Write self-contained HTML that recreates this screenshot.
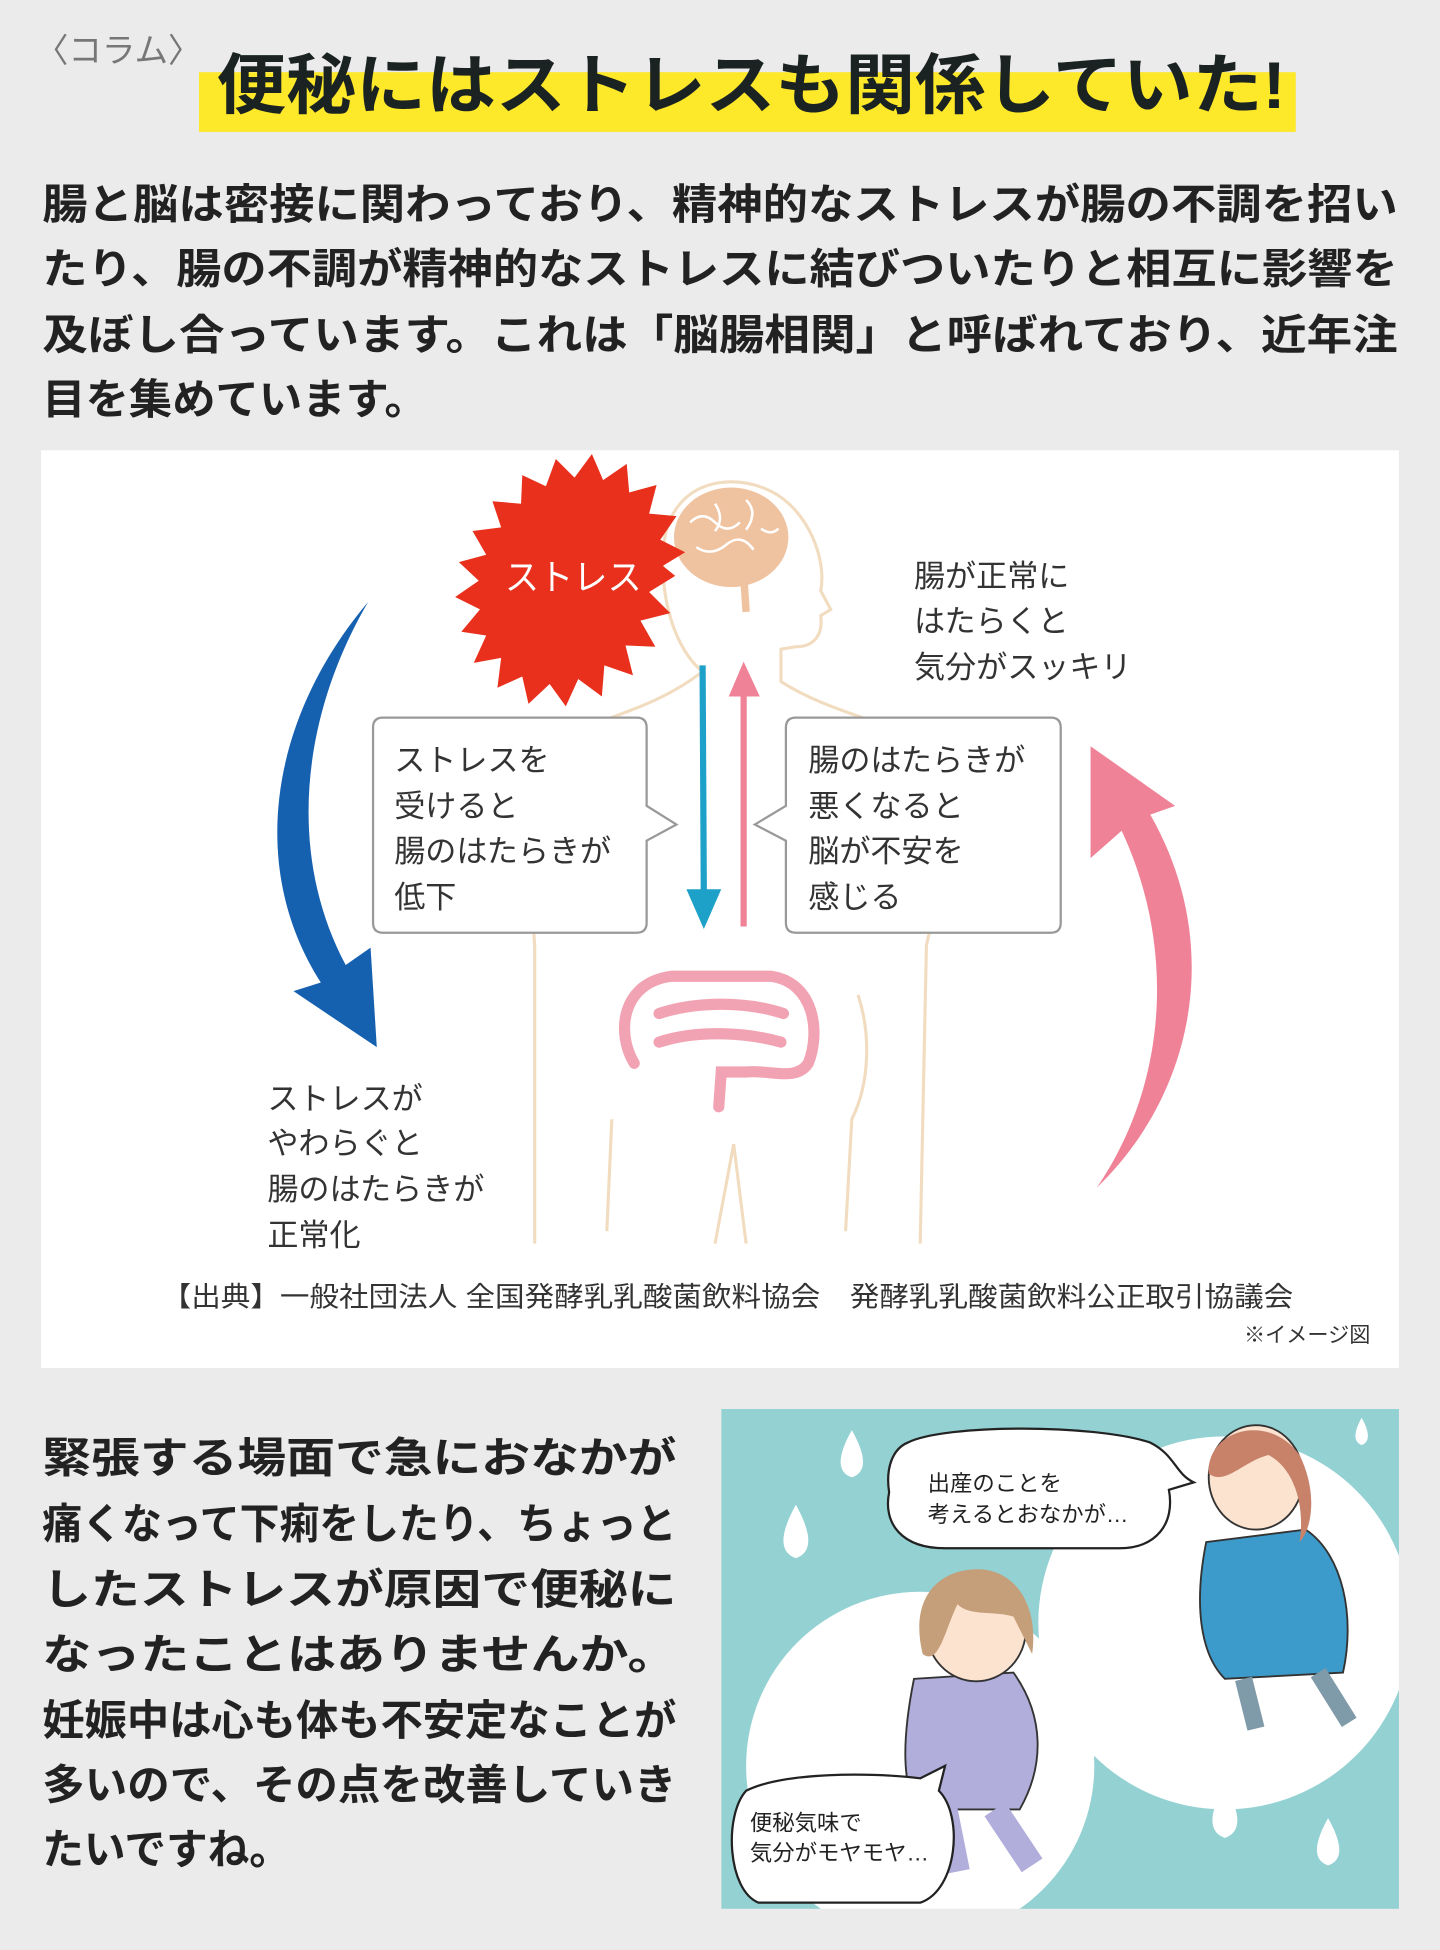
<!DOCTYPE html>
<html><head><meta charset="utf-8"><style>
html,body{margin:0;padding:0;background:#ecebeb;}
svg{display:block;}
text{font-family:"Liberation Sans","Noto Sans CJK JP",sans-serif;}
</style></head><body>
<svg width="1440" height="1950" viewBox="0 0 1158 1568" xmlns="http://www.w3.org/2000/svg">
<rect width="1158" height="1568" fill="#ecebeb"/>
<text x="28" y="50" font-size="27" fill="#777">〈コラム〉</text>
<rect x="160" y="58" width="882" height="48" fill="#fde82a"/>
<text x="174" y="87" font-size="53" font-weight="bold" fill="#1b2322" textLength="860" lengthAdjust="spacingAndGlyphs">便秘にはストレスも関係していた!</text>
<g font-size="34" font-weight="bold" fill="#222">
<text x="34" y="176" textLength="1090" lengthAdjust="spacingAndGlyphs">腸と脳は密接に関わっており、精神的なストレスが腸の不調を招い</text>
<text x="34" y="228" textLength="1090" lengthAdjust="spacingAndGlyphs">たり、腸の不調が精神的なストレスに結びついたりと相互に影響を</text>
<text x="34" y="281" textLength="1090" lengthAdjust="spacingAndGlyphs">及ぼし合っています。これは「脳腸相関」と呼ばれており、近年注</text>
<text x="34" y="333" textLength="310" lengthAdjust="spacingAndGlyphs">目を集めています。</text>
</g>
<rect x="33" y="362" width="1092" height="738" fill="#fff"/>
<g fill="none" stroke="#f1dcc0" stroke-width="2.5">
<path d="M565,540 C540,520 528,470 535,430 C545,385 590,380 620,395 C650,410 665,450 660,475 L668,490 L660,495 C662,510 655,520 640,520 L628,522 L628,548 C670,575 720,580 740,600 C760,640 760,700 745,760 L740,1000"/>
<path d="M565,540 C520,575 470,578 445,600 C425,640 425,700 430,760 L430,1000"/>
<path d="M575,1000 L590,920 L600,1000"/>
<path d="M488,990 L492,900"/><path d="M680,990 L685,900 C700,870 700,830 690,800"/>
</g>
<ellipse cx="588" cy="432" rx="46" ry="40" fill="#f0c3a0"/>
<path d="M598,462 L600,492" stroke="#f0c3a0" stroke-width="6"/>
<g fill="none" stroke="#fff" stroke-width="2"><path d="M555,420 q10,-10 20,0 t20,0"/><path d="M560,440 q12,8 24,-2 t22,4"/><path d="M575,405 q8,12 0,22"/><path d="M600,402 q10,10 0,24"/><path d="M612,425 q8,6 14,0"/></g>
<polygon fill="#e8301d" points="543,463 522,476 539,493 515,499 527,520 503,519 509,543 486,535 484,560 465,546 455,568 442,550 425,566 420,544 400,553 403,529 381,533 391,511 371,508 386,490 366,480 385,467 369,452 391,446 380,427 403,424 396,403 419,405 420,382 439,391 447,369 462,384 476,365 485,386 504,373 506,396 528,390 522,413 544,415 531,434 551,444 533,455"/>
<text x="406" y="474" font-size="29" fill="#fff" textLength="110" lengthAdjust="spacingAndGlyphs">ストレス</text>
<path fill="#1660b0" d="M296,484 C215,580 200,700 258,790 L236,797 L303,842 L298,762 L278,776 C232,690 240,580 296,484 Z"/>
<path fill="#ef8297" d="M882,955 C960,880 985,760 925,655 L945,648 L877,600 L877,690 L902,668 C945,760 940,870 882,955 Z"/>
<path d="M565,535 L566,722" stroke="#1da1c8" stroke-width="5"/>
<polygon points="552,715 580,715 566,747" fill="#1da1c8"/>
<path d="M598,745 L598,558" stroke="#ef8297" stroke-width="5"/>
<polygon points="586,560 611,560 598,532" fill="#ef8297"/>
<path d="M308,577 H512 Q520,577 520,585 V648 L544,663 L520,676 V742 Q520,750 512,750 H308 Q300,750 300,742 V585 Q300,577 308,577 Z" fill="#fff" stroke="#999" stroke-width="1.8"/>
<path d="M640,577 H845 Q853,577 853,585 V742 Q853,750 845,750 H640 Q632,750 632,742 V676 L607,663 L632,648 V585 Q632,577 640,577 Z" fill="#fff" stroke="#999" stroke-width="1.8"/>
<g font-size="25" fill="#333">
<text x="317" y="620">ストレスを</text><text x="317" y="657">受けると</text><text x="317" y="693">腸のはたらきが</text><text x="317" y="730">低下</text>
<text x="650" y="620">腸のはたらきが</text><text x="650" y="657">悪くなると</text><text x="650" y="693">脳が不安を</text><text x="650" y="730">感じる</text>
<text x="735" y="472">腸が正常に</text><text x="735" y="508">はたらくと</text><text x="735" y="545">気分がスッキリ</text>
<text x="215" y="892">ストレスが</text><text x="215" y="928">やわらぐと</text><text x="215" y="965">腸のはたらきが</text><text x="215" y="1002">正常化</text>
</g>
<g fill="none" stroke="#f2a3b3" stroke-width="9" stroke-linecap="round">
<path d="M510,855 C495,830 500,790 540,785 L620,785 C655,790 660,830 650,855 C640,870 620,860 600,862 L580,862 L578,890"/>
<path d="M530,815 C560,805 600,805 630,815"/><path d="M530,838 C560,828 600,830 628,838"/>
</g>
<text x="130" y="1050" font-size="22" fill="#333" textLength="910" lengthAdjust="spacingAndGlyphs">【出典】一般社団法人 全国発酵乳乳酸菌飲料協会　発酵乳乳酸菌飲料公正取引協議会</text>
<text x="1102" y="1079" font-size="17" fill="#333" text-anchor="end">※イメージ図</text>
<g font-size="34" font-weight="bold" fill="#222">
<text x="34" y="1184" textLength="510" lengthAdjust="spacingAndGlyphs">緊張する場面で急におなかが</text>
<text x="34" y="1237" textLength="510" lengthAdjust="spacingAndGlyphs">痛くなって下痢をしたり、ちょっと</text>
<text x="34" y="1290" textLength="510" lengthAdjust="spacingAndGlyphs">したストレスが原因で便秘に</text>
<text x="34" y="1342" textLength="510" lengthAdjust="spacingAndGlyphs">なったことはありませんか。</text>
<text x="34" y="1395" textLength="510" lengthAdjust="spacingAndGlyphs">妊娠中は心も体も不安定なことが</text>
<text x="34" y="1447" textLength="510" lengthAdjust="spacingAndGlyphs">多いので、その点を改善していき</text>
<text x="34" y="1499" textLength="200" lengthAdjust="spacingAndGlyphs">たいですね。</text>
</g>
<defs><clipPath id="c"><rect x="580" y="1133" width="545" height="402"/></clipPath></defs>
<g clip-path="url(#c)">
<rect x="580" y="1133" width="545" height="402" fill="#94d1d3"/>
<circle cx="985" cy="1305" r="150" fill="#fff"/>
<circle cx="740" cy="1420" r="140" fill="#fff"/>
<g fill="#fff">
<path d="M685,1150 q-18,32 0,38 q18,-6 0,-38z"/><path d="M640,1210 q-20,36 0,43 q20,-7 0,-43z"/>
<path d="M942,1410 q-18,32 0,38 q18,-6 0,-38z"/><path d="M985,1435 q-20,36 0,43 q20,-7 0,-43z"/><path d="M1068,1462 q-18,32 0,38 q18,-6 0,-38z"/><path d="M1095,1140 q-10,18 0,22 q10,-4 0,-22z"/>
</g>
<path d="M970,1240 C960,1290 965,1330 985,1350 L1080,1345 C1090,1300 1080,1250 1050,1230 Z" fill="#3c9bcb" stroke="#333" stroke-width="1.5"/>
<path d="M1000,1350 L1010,1390 M1060,1345 L1085,1385" stroke="#7f9aa8" stroke-width="14"/>
<ellipse cx="1010" cy="1188" rx="38" ry="42" fill="#fbe3d0" stroke="#333" stroke-width="1.5"/>
<path d="M972,1185 C970,1150 1020,1135 1045,1170 C1060,1200 1055,1230 1045,1240 C1050,1210 1040,1180 1020,1170 C1000,1175 985,1195 972,1185Z" fill="#c9826a"/>
<path d="M735,1350 C725,1400 725,1440 740,1455 L820,1455 C840,1420 840,1380 815,1345 Z" fill="#b1aedb" stroke="#333" stroke-width="1.5"/>
<path d="M760,1455 L770,1505 M800,1455 L830,1500" stroke="#b1aedb" stroke-width="20"/>
<ellipse cx="785" cy="1310" rx="40" ry="42" fill="#fbe3d0" stroke="#333" stroke-width="1.5"/>
<path d="M742,1330 C730,1280 760,1260 790,1262 C820,1265 835,1295 830,1330 L815,1300 C800,1295 780,1300 770,1290 C760,1310 755,1340 742,1330Z" fill="#c59e7a"/>
<path d="M730,1160 C760,1145 880,1145 925,1160 C945,1170 945,1185 960,1192 L940,1198 C945,1225 930,1245 900,1245 L760,1245 C725,1245 710,1225 715,1200 C712,1180 718,1165 730,1160Z" fill="#fff" stroke="#222" stroke-width="1.8"/>
<path d="M600,1440 C630,1425 700,1425 740,1430 L760,1420 L755,1440 C775,1460 770,1520 740,1530 L610,1530 C585,1520 582,1460 600,1440Z" fill="#fff" stroke="#222" stroke-width="1.8"/>
<text x="746" y="1199" font-size="18" fill="#222">出産のことを</text>
<text x="746" y="1224" font-size="18" fill="#222">考えるとおなかが…</text>
<text x="603" y="1472" font-size="18" fill="#222">便秘気味で</text>
<text x="603" y="1496" font-size="18" fill="#222">気分がモヤモヤ…</text>
</g>
</svg>
</body></html>
